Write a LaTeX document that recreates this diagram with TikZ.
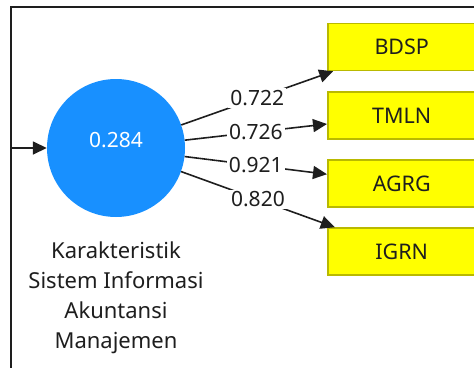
\documentclass[tikz,border=0pt]{standalone}
\usepackage{fontspec}
\setmainfont{Noto Sans}
\usetikzlibrary{arrows.meta}
\definecolor{lvblue}{RGB}{24,144,255}
\definecolor{indyellow}{RGB}{255,255,0}
\definecolor{indborder}{RGB}{185,185,0}
\definecolor{ink}{RGB}{30,30,30}
\tikzset{
  latent/.style={circle, fill=lvblue, minimum size=138pt, inner sep=0pt},
  indicator/.style={rectangle, fill=indyellow, draw=indborder, line width=1.5pt,
                    minimum width=148pt, minimum height=47pt, anchor=west,
                    text=ink, font=\fontsize{21.5}{24}\selectfont},
  loading/.style={-{Triangle[length=14pt,width=13pt]}, line width=1.6pt, draw=ink},
  weight/.style={fill=white, inner sep=2pt, text=ink, font=\fontsize{21}{24}\selectfont},
  caption/.style={align=center, text=ink, font=\fontsize{22}{30}\selectfont}
}
\begin{document}
\begin{tikzpicture}[x=1pt,y=-1pt]
  \useasboundingbox (0,0) rectangle (474,367);
  % window frame
  \draw[line width=1.8pt, draw=ink] (11,370) -- (11,7) -- (476,7);

  % latent variable and its caption
  \node[latent] (lv) at (116,148) {};
  \node[text=white, font=\fontsize{21}{24}\selectfont] (r2) at (116,140) {0.284};
  \node[caption] (name) at (116,298)
    {Karakteristik\\Sistem Informasi\\Akuntansi\\Manajemen};

  % indicators
  \node[indicator] (bdsp) at (327,47)    {BDSP};
  \node[indicator] (tmln) at (327,115.5) {TMLN};
  \node[indicator] (agrg) at (327,183.5) {AGRG};
  \node[indicator] (igrn) at (327,251.5) {IGRN};

  % incoming path
  \coordinate (src) at (11,148);
  \draw[loading] (src) -- (lv);

  % outer loadings
  \draw[loading] (lv) -- node[weight] {0.722} (bdsp);
  \draw[loading] (lv) -- node[weight] {0.726} (tmln);
  \draw[loading] (lv) -- node[weight] {0.921} (agrg);
  \draw[loading] (lv) -- node[weight] {0.820} (igrn);
\end{tikzpicture}
\end{document}
